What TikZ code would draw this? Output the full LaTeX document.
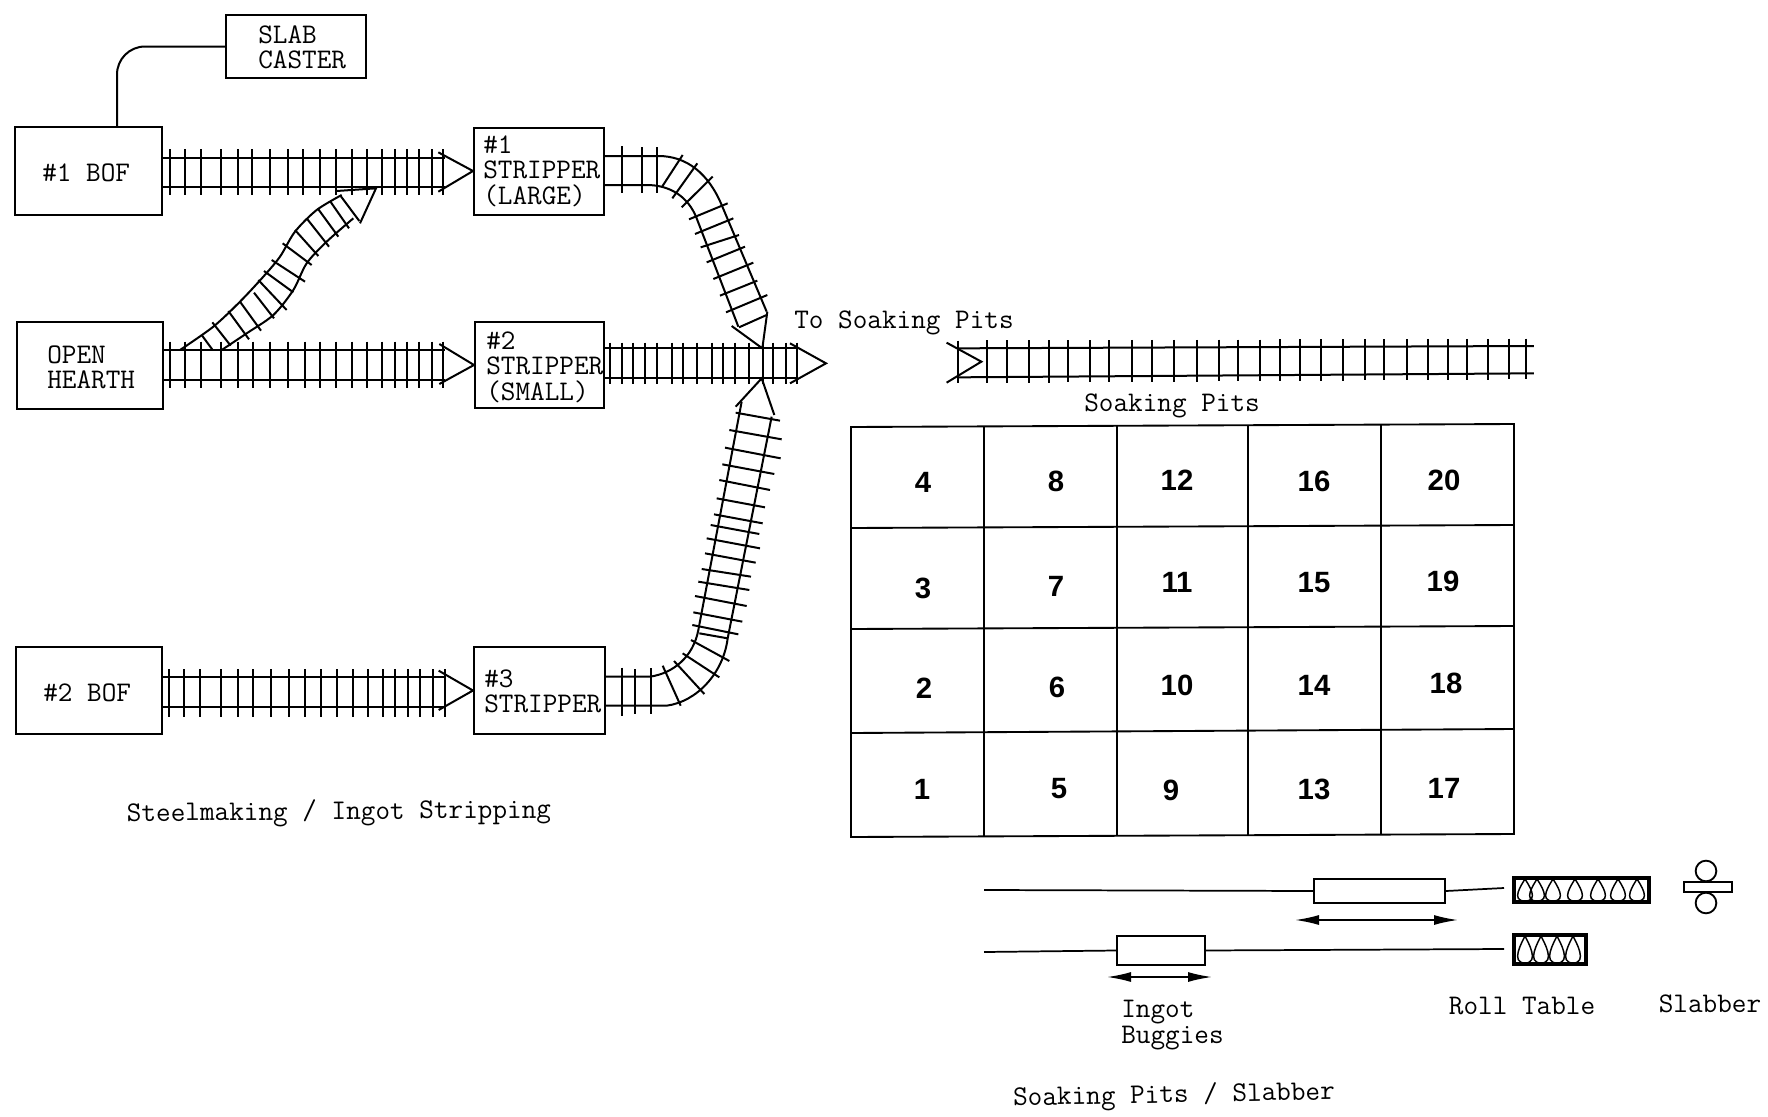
\documentclass[tikz,border=0pt]{standalone}
\usepackage{fontspec}
\setsansfont{Liberation Sans}
\usetikzlibrary{arrows.meta,calc}
\tikzset{
  px/.style={x=0.75pt,y=-0.75pt},
  zA/.style={shift={(130,120)},x=0.25pt,y=-0.25pt},
  zB/.style={shift={(590,130)},x=0.25pt,y=-0.25pt},
  zC/.style={shift={(590,400)},x=0.25pt,y=-0.25pt},
  zE/.style={shift={(930,320)},x=0.2964pt,y=-0.25pt},
  zI/.style={shift={(0,630)},x=0.2964pt,y=-0.25pt},
  bx/.style 2 args={draw=black,line width=1.5pt,minimum width=#1*0.75pt,minimum height=#2*0.75pt,inner sep=0pt},
  lbl/.style={font=\ttfamily\fontsize{21.3}{19}\selectfont,align=left,inner sep=0pt,text=black},
  pit/.style={font=\sffamily\bfseries\fontsize{22}{22}\selectfont,inner sep=0pt,text=black},
  rail/.style={line width=1.5pt,line join=miter},
  sleeper/.style={line width=1.5pt},
  gridline/.style={line width=1.4pt},
  buggyline/.style={line width=1.3pt},
  shuttle/.style={line width=1.3pt,{Latex[length=18pt,width=7.5pt]}-{Latex[length=18pt,width=7.5pt]}},
  coilline/.style={line width=1.1pt}
}
\begin{document}
\begin{tikzpicture}[px]
\useasboundingbox (0,0) rectangle (1768,1117);

% boxes
\node[bx={147}{88}] (bof1) at (88.5,171) {};
\node[bx={140}{63}] (caster) at (296,46.5) {};
\node[bx={146}{87}] (hearth) at (90,365.5) {};
\node[bx={146}{87}] (bof2) at (89,690.5) {};
\node[bx={130}{87}] (strip1) at (539,171) {};
\node[bx={129}{86}] (strip2) at (539.5,365) {};
\node[bx={131}{87}] (strip3) at (539.5,690.5) {};

% box labels
\node[lbl,anchor=west] (tbof1) at (42,172.5) {\#1 BOF};
\node[lbl,anchor=west] (tcaster) at (258,47) {SLAB\\CASTER};
\node[lbl,anchor=west] (thearth) at (47,367) {OPEN\\HEARTH};
\node[lbl,anchor=west] (tbof2) at (43,692.5) {\#2 BOF};
\node[lbl,anchor=west] (tstrip1) at (483,171) {\#1\\STRIPPER\\(LARGE)};
\node[lbl,anchor=west] (tstrip2) at (486,367) {\#2\\STRIPPER\\(SMALL)};
\node[lbl,anchor=west] (tstrip3) at (484,691) {\#3\\STRIPPER};

% caster feed
\coordinate (feed) at (117,127);
\draw[line width=1.5pt,rounded corners=21pt] (feed) |- (caster.west);

% track 1: #1 BOF to #1 stripper, and the branch from the open hearth
\begin{scope}[zA]
  \draw[rail] (bof1.east |- 0,115) -- (945,115);
  \draw[rail] (bof1.east |- 0,202) -- (945,202);
  \foreach \x in {120,165,212,272,323,367,420,473,520,570,618,665,710,755,795,830,868,905,940}
    \draw[sleeper] (\x,88) -- (\x,225);
  \draw[rail] (925,97) -- (strip1.west) -- (925,215);
  % branch
  \draw[rail] plot[smooth,tension=0.5] coordinates {(150,690) (250,620) (330,545) (400,470) (450,410) (495,335) (560,270) (635,225)};
  \draw[rail] plot[smooth,tension=0.5] coordinates {(275,690) (350,640) (430,585) (490,510) (530,430) (590,365) (670,295)};
  \foreach \a/\b/\c/\d in {215/645/248/690,247/607/302/677,295/573/357/658,330/545/393/632,372/518/432/595,385/480/470/570,402/453/490/517,425/420/525/485,458/370/545/435,495/330/565/408,530/295/597/380,563/265/625/350,600/243/657/325,632/228/688/303}
    \draw[sleeper] (\a,\b) -- (\c,\d);
  \draw[rail] (620,213) -- (738,205) -- (690,310);
  % track 2
  \draw[rail] (hearth.east |- 0,690) -- (945,690);
  \draw[rail] (hearth.east |- 0,780) -- (945,780);
  \foreach \x in {120,165,213,272,323,368,420,473,525,570,617,665,710,755,795,830,868,905,940}
    \draw[sleeper] (\x,665) -- (\x,803);
  \draw[rail] (928,672) -- (strip2.west) -- (928,792);
\end{scope}

% track: #1 stripper curving down, and #2 stripper out
\begin{scope}[zB]
  \draw[rail] (strip1.east |- 0,78) -- (205,78) .. controls (290,78) and (355,130) .. (395,225) -- (530,545);
  \draw[rail] (strip1.east |- 0,165) -- (170,165) .. controls (240,165) and (295,200) .. (320,265) -- (445,590);
  \foreach \a/\b/\c/\d in {95/48/95/188,157/52/157/188,202/52/202/188,278/75/215/172,322/100/247/205,368/140/275/232,413/220/297/268,430/265/315/312,447/315/332/352,465/350/350/397,490/398/370/447,502/452/390/497,532/495/408/547,530/555/447/592}
    \draw[sleeper] (\a,\b) -- (\c,\d);
  \draw[rail] (425,588) -- (517,655) -- (532,545);
  \draw[rail] (strip2.east |- 0,655) -- (625,655);
  \draw[rail] (strip2.east |- 0,745) -- (625,745);
  \foreach \x in {60,95,130,165,202,245,280,322,365,400,435,478,518,550,587,622}
    \draw[sleeper] (\x,638) -- (\x,762);
  \draw[rail] (600,640) -- (708,700) -- (600,760);
  \draw[rail] (437,830) -- (515,745) -- (553,855);
\end{scope}

% track: #3 stripper curving up
\begin{scope}[zC]
  \draw[rail] (strip3.east |- 0,830) -- (180,830) .. controls (250,820) and (310,770) .. (325,690) -- (455,5);
  \draw[rail] (strip3.east |- 0,917) -- (230,917) .. controls (320,905) and (400,820) .. (413,715) -- (545,50);
  \foreach \a/\b/\c/\d in {95/803/95/947,135/808/135/943,183/805/183/943,218/797/272/917,252/783/343/882,278/760/388/832,303/720/418/783,328/700/413/715,307/675/445/703,310/637/457/665,315/588/470/618,325/545/478/570,335/507/483/530,345/460/497/488,350/415/510/445,362/375/508/402,372/343/518/370,380/295/525/322,388/240/540/270,397/193/553/222,405/143/572/175,418/90/575/118,437/38/570/62}
    \draw[sleeper] (\a,\b) -- (\c,\d);
\end{scope}

% track 3: #2 BOF to #3 stripper
\begin{scope}[zI]
  \draw[rail] (bof2.east |- 0,140) -- (1125,140);
  \draw[rail] (bof2.east |- 0,232) -- (1125,232);
  \foreach \x in {428,465,507,558,603,640,685,730,772,812,853,893,930,968,1000,1032,1063,1095,1125}
    \draw[sleeper] (\x,118) -- (\x,262);
  \draw[rail] (1110,122) -- (strip3.west) -- (1110,240);
\end{scope}

% track to soaking pits
\begin{scope}[zE]
  \draw[rail] (72,85) -- (1528,78);
  \draw[rail] (72,172) -- (1528,160);
  \foreach \x [evaluate=\x as \t using 62-0.004*\x, evaluate=\x as \b using 190-0.008*\x] in {72,145,195,250,300,350,405,452,512,562,618,675,730,780,835,885,937,990,1045,1100,1150,1207,1260,1310,1360,1413,1465,1507}
    \draw[sleeper] (\x,\t) -- (\x,\b);
  \draw[rail] (42,68) -- (130,125) -- (42,188);
\end{scope}

% captions
\node[lbl,anchor=west] (ttopits) at (794,323) {To Soaking Pits};
\node[lbl,anchor=west] (tpits) at (1084,406) {Soaking Pits};
\node[lbl,anchor=center,rotate=0.5] (tsteel) at (339,813) {Steelmaking / Ingot Stripping};
\node[lbl,anchor=center,rotate=1.1] (tslab) at (1174,1096) {Soaking Pits / Slabber};
\node[lbl,anchor=west] (tingot) at (1121,1025) {Ingot\\Buggies};
\node[lbl,anchor=center] (troll) at (1522,1006) {Roll Table};
\node[lbl,anchor=center] (tslabber) at (1710,1004) {Slabber};

% soaking pit grid
\draw[gridline] (851,427) -- (1514,424) -- (1514,834) -- (851,837) -- cycle;
\draw[gridline] (851,528) -- (1514,525);
\draw[gridline] (851,629) -- (1514,626);
\draw[gridline] (851,733) -- (1514,729);
\draw[gridline] (984,426) -- (984,837);
\draw[gridline] (1117,426) -- (1117,836);
\draw[gridline] (1248,425) -- (1248,835);
\draw[gridline] (1381,424) -- (1381,835);

\node[pit] (p4) at (923,482) {4};
\node[pit] (p8) at (1056,481) {8};
\node[pit] (p12) at (1177,480) {12};
\node[pit] (p16) at (1314,481) {16};
\node[pit] (p20) at (1444,480) {20};
\node[pit] (p3) at (923,588) {3};
\node[pit] (p7) at (1056,586) {7};
\node[pit] (p11) at (1177,582) {11};
\node[pit] (p15) at (1314,583) {15};
\node[pit] (p19) at (1443,581) {19};
\node[pit] (p2) at (924,688) {2};
\node[pit] (p6) at (1057,687) {6};
\node[pit] (p10) at (1177,685) {10};
\node[pit] (p14) at (1314,685) {14};
\node[pit] (p18) at (1446,683) {18};
\node[pit] (p1) at (922,789) {1};
\node[pit] (p5) at (1059,789) {5};
\node[pit] (p9) at (1171,790) {9};
\node[pit] (p13) at (1314,789) {13};
\node[pit] (p17) at (1444,788) {17};

% ingot buggies
\node[bx={131}{24}] (buggy1) at (1379.5,891) {};
\node[bx={88}{29}] (buggy2) at (1161,950.5) {};
\coordinate (a1) at (984,890);
\coordinate (a2) at (984,952);
\coordinate (b1) at (1504,888);
\coordinate (b2) at (1504,949);
\draw[buggyline] (a1) -- (buggy1.west);
\draw[buggyline] (buggy1.east) -- (b1);
\draw[buggyline] (a2) -- (buggy2.west);
\draw[buggyline] (buggy2.east) -- (b2);
\coordinate (s1l) at (1295,920);
\coordinate (s1r) at (1458,920);
\coordinate (s2l) at (1107,977);
\coordinate (s2r) at (1212,977);
\draw[shuttle] (s1l) -- (s1r);
\draw[shuttle] (s2l) -- (s2r);

% roll tables
\node[bx={135}{24},line width=2.6pt] (table1) at (1581.5,890) {};
\node[bx={72}{29},line width=2.6pt] (table2) at (1550,949.5) {};
\foreach \x in {1525,1537,1553,1575,1598,1618,1637}
  \draw[coilline] (\x,879) .. controls (\x-3,884) and (\x-15,901) .. (\x,901) .. controls (\x+15,901) and (\x+3,884) .. (\x,879);
\foreach \x in {1525,1541,1557,1573}
  \draw[coilline] (\x,936) .. controls (\x-3,942) and (\x-15,963) .. (\x,963) .. controls (\x+15,963) and (\x+3,942) .. (\x,936);

% slabber
\node[draw=black,circle,line width=1.4pt,minimum size=15.5pt,inner sep=0pt] (rolltop) at (1706,871) {};
\node[draw=black,circle,line width=1.4pt,minimum size=15.5pt,inner sep=0pt] (rollbot) at (1706,903) {};
\node[bx={48}{10},fill=white] (bar) at (1708,887) {};
\end{tikzpicture}
\end{document}
